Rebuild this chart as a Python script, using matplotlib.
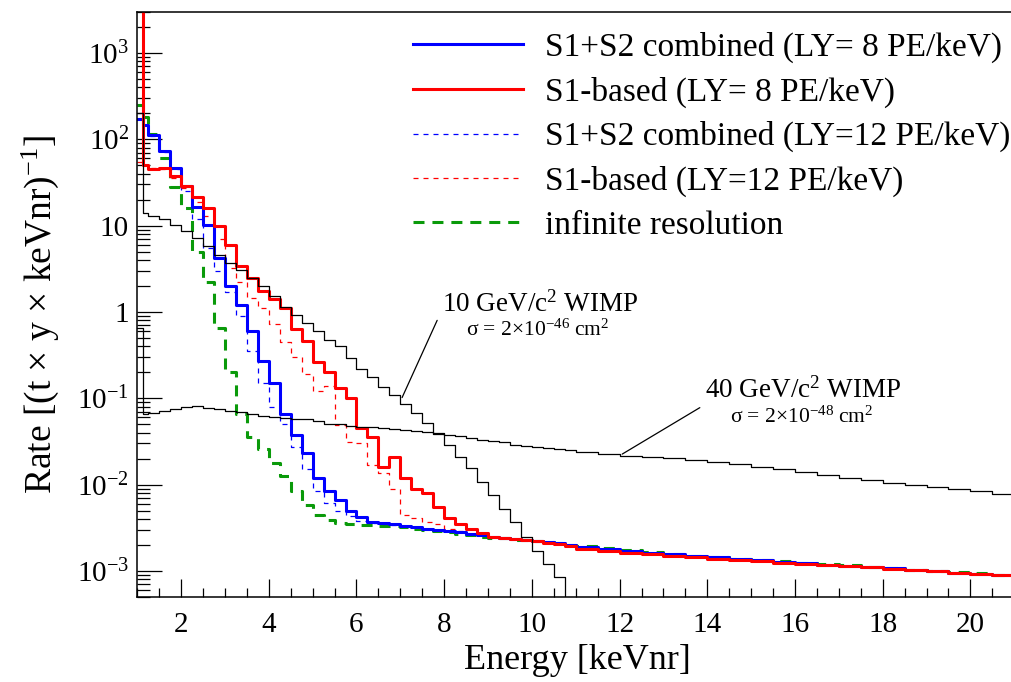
import matplotlib
matplotlib.use('Agg')  # Non-interactive backend
import matplotlib.pyplot as plt
import numpy as np
from matplotlib.ticker import (LogLocator, MultipleLocator, FixedLocator, FuncFormatter,
                               NullFormatter)

plt.rcParams['font.family'] = ['Liberation Serif', 'DejaVu Serif']
plt.rcParams['mathtext.fontset'] = 'custom'
plt.rcParams['mathtext.rm'] = 'Liberation Serif'
plt.rcParams['mathtext.it'] = 'Liberation Serif:italic'
plt.rcParams['mathtext.bf'] = 'Liberation Serif:bold'

# Bin edges [keVnr]: narrow first bin, 0.25 keV bins up to 11 keV, 0.5 keV bins above
EDGES = np.concatenate([[1.0, 1.125], np.arange(1.25, 11.0, 0.25), np.arange(11.0, 21.01, 0.5)])

# Rates [(t x y x keVnr)^-1], bins 1.0 ... 11.0 keVnr
S1S2_LY8 = [170, 148, 111, 74, 47, 28.5, 16.6, 10.2, 4.2, 2.0, 1.2, 0.6, 0.27, 0.15,
            0.065, 0.038, 0.023, 0.012, 0.0085, 0.0066, 0.005, 0.0042, 0.0037, 0.0036,
            0.0035, 0.0033, 0.0032, 0.0031, 0.0030, 0.0029, 0.0028, 0.0027, 0.0026,
            0.0025, 0.0024, 0.00235, 0.0023, 0.0022, 0.00215, 0.0021, 0.0020]
S1_LY8 = [5000, 50.8, 45, 47, 38, 28.5, 21.5, 16, 10, 6, 3.4, 2.5, 1.75, 1.4, 1.1,
          0.64, 0.46, 0.26, 0.2, 0.13, 0.1, 0.045, 0.036, 0.016, 0.021, 0.012, 0.0088,
          0.0081, 0.0055, 0.0041, 0.0035, 0.0031, 0.00275, 0.0025, 0.0024, 0.00235,
          0.0023, 0.0022, 0.0021, 0.00205, 0.00195]
S1S2_LY12 = [170, 148, 110, 72, 45, 25, 12, 5.5, 3.0, 1.7, 0.9, 0.35, 0.15, 0.08, 0.05,
             0.027, 0.015, 0.0085, 0.0062, 0.005, 0.0043, 0.0038, 0.0036, 0.0035,
             0.0034, 0.0033, 0.0032, 0.0031, 0.0030, 0.0029, 0.0028, 0.0027, 0.0026,
             0.0025, 0.0024, 0.00235, 0.0023, 0.0022, 0.00215, 0.0021, 0.0020]
S1_LY12 = [55, 50, 47, 45, 36, 27, 19, 13, 7, 3.2, 2.2, 1.45, 1.1, 0.73, 0.45, 0.3,
           0.19, 0.12, 0.14, 0.049, 0.031, 0.03, 0.017, 0.0135, 0.009, 0.0045, 0.0041,
           0.0037, 0.0035, 0.0031, 0.0029, 0.0027, 0.0026, 0.0025, 0.0024, 0.00235,
           0.0023, 0.0022, 0.00215, 0.0021, 0.0020]
INFINITE = [250, 180, 115, 60, 28, 16, 5, 2.2, 0.65, 0.2, 0.065, 0.036, 0.026, 0.018,
            0.0125, 0.0085, 0.0058, 0.0044, 0.0039, 0.0036, 0.0035, 0.0034, 0.0034,
            0.0033, 0.0033, 0.0032, 0.0031, 0.0030, 0.0029, 0.0028, 0.0027, 0.0026,
            0.0025, 0.0024, 0.0024, 0.0023, 0.0023, 0.0022, 0.00215, 0.0021, 0.0020]

# Background tails, bins 11 ... 21 keVnr
TAIL_S1S2 = [0.00190, 0.00180, 0.00171, 0.00163, 0.00156, 0.00150, 0.00144, 0.00138,
             0.00133, 0.00128, 0.00124, 0.00119, 0.00115, 0.00111, 0.00107, 0.00103,
             0.00099, 0.00096, 0.00093, 0.00090]
TAIL_S1 = [0.00182, 0.00172, 0.00163, 0.00156, 0.00150, 0.00145, 0.00139, 0.00134,
           0.00129, 0.00125, 0.00121, 0.00117, 0.00113, 0.00110, 0.00106, 0.00102,
           0.00099, 0.00096, 0.00093, 0.00090]
TAIL_INF = [0.00195, 0.00184, 0.00174, 0.00166, 0.00158, 0.00151, 0.00145, 0.00139,
            0.00134, 0.00129, 0.00124, 0.00120, 0.00116, 0.00112, 0.00108, 0.00104,
            0.00100, 0.00097, 0.00094, 0.00091]

# WIMP signal spectra
WIMP10 = [200, 13.9, 13, 11.8, 10.2, 8.6, 7.2, 5.8, 4.6, 3.7, 3.1, 2.5, 2.0, 1.55, 1.15,
          0.92, 0.75, 0.6, 0.48, 0.4, 0.29, 0.22, 0.175, 0.135, 0.11, 0.085, 0.068, 0.052,
          0.04, 0.029, 0.021, 0.0155, 0.0108, 0.0075, 0.0052, 0.0037, 0.0025, 0.0017,
          0.0012, 0.00085, 0.0004]
WIMP40 = [0.66, 0.066, 0.068, 0.072, 0.076, 0.079, 0.081, 0.078, 0.075, 0.072, 0.069,
          0.066, 0.062, 0.060, 0.059, 0.058, 0.057, 0.054, 0.051, 0.050, 0.048, 0.047,
          0.046, 0.045, 0.044, 0.043, 0.042, 0.041, 0.039, 0.038, 0.0365, 0.035, 0.033,
          0.032, 0.031, 0.029, 0.028, 0.027, 0.0265, 0.026, 0.025,
          0.0238, 0.0226, 0.0216, 0.0208, 0.0201, 0.0193, 0.0183, 0.0172, 0.0162, 0.0151,
          0.0139, 0.0128, 0.0119, 0.0112, 0.0105, 0.0098, 0.0093, 0.0089, 0.0085, 0.0078]

# Labelled decades on the rate axis
RATE_TICKS = [1e-3, 1e-2, 1e-1, 1, 10, 1e2, 1e3]

BLUE = '#0000ff'
RED = '#ff0000'
GREEN = '#0a9a0a'


def step(ax, values, **kw):
    """Draw a histogram outline from bin contents on the shared edges."""
    edges = EDGES[:len(values) + 1]
    y = np.append(values, values[-1])
    return ax.plot(edges, y, drawstyle='steps-post', **kw)[0]


def fmt_rate(v, pos):
    e = int(round(np.log10(v)))
    if e == 0:
        return '1'
    if e == 1:
        return '10'
    return r'$10^{%d}$' % e


fig = plt.figure(figsize=(10.12, 6.82), dpi=100)
ax = fig.add_axes([0.1356, 0.1246, 0.8666, 0.8582])

h_inf = step(ax, INFINITE + TAIL_INF, color=GREEN, lw=2.2, ls=(0, (3.6, 2.6)),
             label='infinite resolution')
h_b12 = step(ax, S1S2_LY12 + TAIL_S1S2, color=BLUE, lw=0.9, ls=(0, (4, 4)),
             label='S1+S2 combined (LY=12 PE/keV)')
h_r12 = step(ax, S1_LY12 + TAIL_S1, color=RED, lw=0.9, ls=(0, (4, 4)),
             label='S1-based (LY=12 PE/keV)')
h_b8 = step(ax, S1S2_LY8 + TAIL_S1S2, color=BLUE, lw=2.2,
            label='S1+S2 combined (LY= 8 PE/keV)')
h_r8 = step(ax, S1_LY8 + TAIL_S1, color=RED, lw=2.2,
            label='S1-based (LY= 8 PE/keV)')
step(ax, WIMP10, color='black', lw=0.9)
step(ax, WIMP40, color='black', lw=0.9)

ax.set_yscale('log')
ax.set_xlim(1, 21)
ax.set_ylim(5e-4, 3e3)

ax.xaxis.set_major_locator(MultipleLocator(2))
ax.xaxis.set_minor_locator(MultipleLocator(0.5))
ax.yaxis.set_major_locator(FixedLocator(RATE_TICKS))
ax.yaxis.set_minor_locator(LogLocator(base=10, subs=np.arange(2, 10), numticks=20))
ax.yaxis.set_major_formatter(FuncFormatter(fmt_rate))
ax.yaxis.set_minor_formatter(NullFormatter())

ax.tick_params(axis='both', which='both', direction='in', width=0.9, labelsize=21,
               top=False, right=False)
ax.tick_params(axis='y', which='major', length=18, pad=6)
ax.tick_params(axis='y', which='minor', length=9.4)
ax.tick_params(axis='x', which='major', length=12.7, pad=11)
ax.tick_params(axis='x', which='minor', length=6.3)
for sp in ax.spines.values():
    sp.set_linewidth(1.1)

ax.set_xlabel('Energy [keVnr]', fontsize=26)
ax.set_ylabel(r'Rate [(t × y × keVnr)$^{-1}$]', fontsize=27)
ax.xaxis.label.set_va('center')
ax.yaxis.label.set_va('center')
ax.xaxis.set_label_coords(0.5015, -0.1085)
ax.yaxis.set_label_coords(-0.1108, 0.482)

# WIMP labels with leader lines
ax.annotate('', xy=(7.04, 0.102), xytext=(7.84, 0.80),
            arrowprops=dict(arrowstyle='-', lw=0.9, color='black', shrinkA=0, shrinkB=0))
ax.text(10.18, 1.0, r'10 GeV/c$^{2}$ WIMP', ha='center', va='baseline', fontsize=19.5)
ax.text(10.14, 0.535, r'σ = 2×10$^{-46}$ cm$^{2}$', ha='center', va='baseline', fontsize=15.5)
ax.annotate('', xy=(12.06, 0.0226), xytext=(13.83, 0.078),
            arrowprops=dict(arrowstyle='-', lw=0.9, color='black', shrinkA=0, shrinkB=0))
ax.text(16.19, 0.103, r'40 GeV/c$^{2}$ WIMP', ha='center', va='baseline', fontsize=19.5)
ax.text(16.15, 0.0526, r'σ = 2×10$^{-48}$ cm$^{2}$', ha='center', va='baseline', fontsize=15.5)

leg = ax.legend(handles=[h_b8, h_r8, h_b12, h_r12, h_inf], loc='upper left',
                bbox_to_anchor=(0.408, 0.953), bbox_transform=fig.transFigure,
                frameon=False, fontsize=24, handlelength=3.3, handletextpad=0.65,
                labelspacing=0.4, borderpad=0, borderaxespad=0)

fig.savefig('out.png', dpi=100)
